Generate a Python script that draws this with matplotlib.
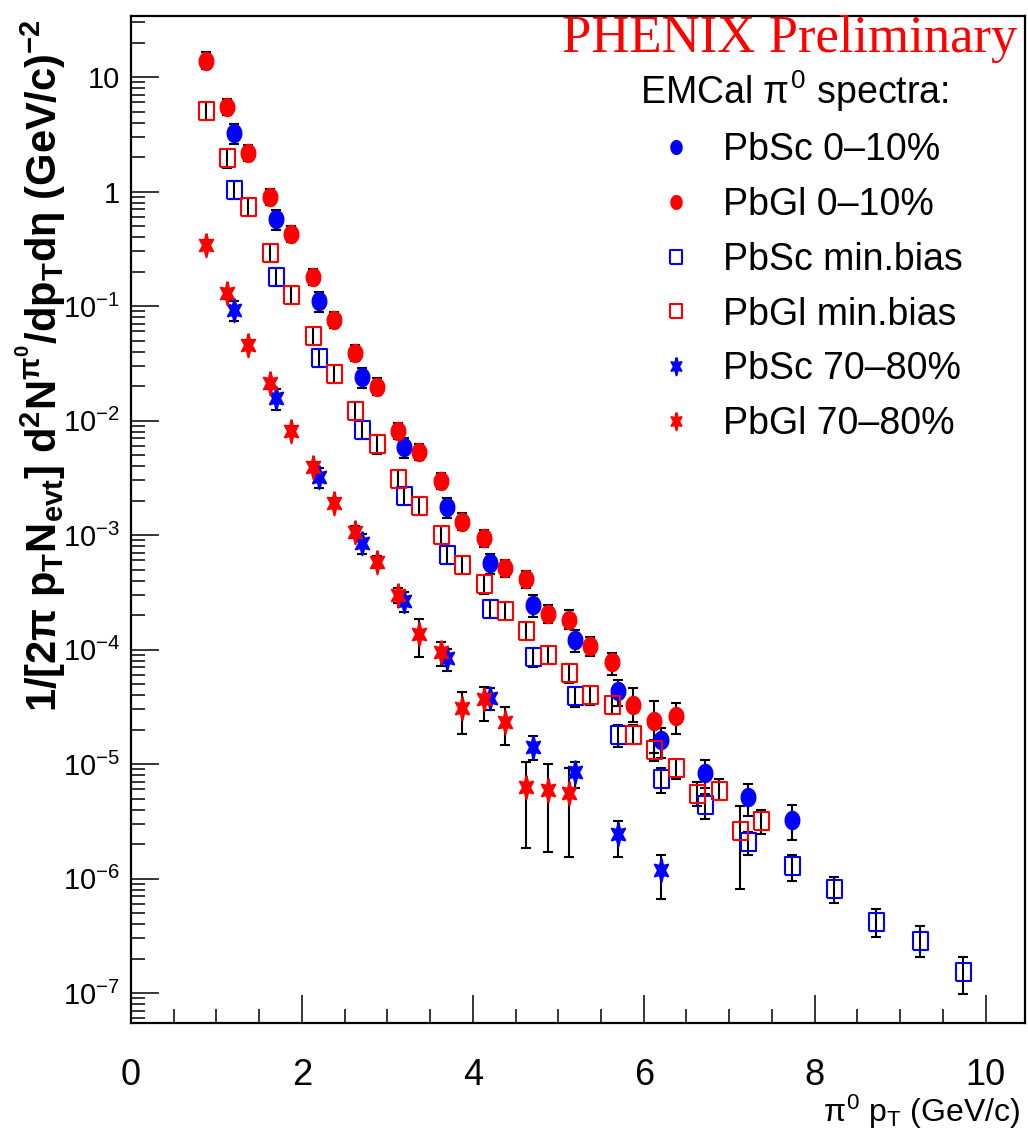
import numpy as np
import matplotlib
matplotlib.use("Agg")
import matplotlib.pyplot as plt
from matplotlib.ticker import MultipleLocator, LogLocator, NullFormatter, FuncFormatter

plt.rcParams['font.family'] = ['Liberation Sans', 'DejaVu Sans']
plt.rcParams['mathtext.fontset'] = 'custom'
plt.rcParams['mathtext.rm'] = 'Liberation Sans'
plt.rcParams['mathtext.it'] = 'Liberation Sans'
plt.rcParams['mathtext.bf'] = 'Liberation Sans:bold'

# PbGl 0-10% (red filled circles)
pbgl_c_x = [0.875, 1.125, 1.375, 1.625, 1.875, 2.125, 2.375, 2.625, 2.875, 3.125, 3.375, 3.625,
            3.875, 4.125, 4.375, 4.625, 4.875, 5.125, 5.375, 5.625, 5.875, 6.125, 6.375]
pbgl_c_y = [13.9, 5.50, 2.18, 0.901, 0.426, 0.180, 0.0755, 0.0386, 0.0198, 8.09e-3, 5.34e-3, 2.96e-3,
            1.31e-3, 9.35e-4, 5.12e-4, 4.12e-4, 2.06e-4, 1.83e-4, 1.08e-4, 7.78e-5, 3.31e-5, 2.38e-5, 2.64e-5]
pbgl_c_up = [0.18, 0.18, 0.18, 0.18, 0.18, 0.18, 0.18, 0.18, 0.18, 0.18, 0.18, 0.18,
             0.18, 0.18, 0.18, 0.18, 0.2, 0.2, 0.2, 0.21, 0.39, 0.49, 0.30]
pbgl_c_dn = [0.15, 0.15, 0.15, 0.15, 0.15, 0.15, 0.15, 0.15, 0.15, 0.15, 0.15, 0.15,
             0.15, 0.16, 0.16, 0.16, 0.18, 0.18, 0.18, 0.23, 0.30, 0.47, 0.31]

# PbSc 0-10% (blue filled circles)
pbsc_c_x = [1.2, 1.7, 2.2, 2.7, 3.2, 3.7, 4.2, 4.7, 5.2, 5.7, 6.2, 6.72, 7.22, 7.73]
pbsc_c_y = [3.26, 0.575, 0.111, 0.0240, 5.91e-3, 1.77e-3, 5.71e-4, 2.47e-4, 1.22e-4, 4.31e-5,
            1.61e-5, 8.28e-6, 5.15e-6, 3.27e-6]
pbsc_c_up = [0.2, 0.2, 0.2, 0.2, 0.2, 0.2, 0.2, 0.22, 0.22, 0.26, 0.28, 0.30, 0.30, 0.35]
pbsc_c_dn = [0.2, 0.2, 0.2, 0.2, 0.2, 0.2, 0.2, 0.22, 0.22, 0.25, 0.30, 0.26, 0.31, 0.33]

# PbSc min. bias (blue open squares)
pbsc_mb_x = [1.2, 1.7, 2.2, 2.7, 3.2, 3.7, 4.2, 4.7, 5.2, 5.7, 6.2, 6.72, 7.22, 7.73,
             8.23, 8.72, 9.23, 9.73]
pbsc_mb_y = [1.03, 0.180, 0.0353, 8.26e-3, 2.19e-3, 6.69e-4, 2.26e-4, 8.59e-5, 3.90e-5, 1.80e-5,
             7.39e-6, 4.38e-6, 2.09e-6, 1.29e-6, 8.17e-7, 4.15e-7, 2.86e-7, 1.52e-7]
pbsc_mb_up = [0.2, 0.2, 0.2, 0.2, 0.2, 0.2, 0.2, 0.2, 0.2, 0.22, 0.25, 0.25, 0.23, 0.25,
              0.26, 0.31, 0.36, 0.36]
pbsc_mb_dn = [0.17, 0.17, 0.17, 0.17, 0.17, 0.17, 0.17, 0.18, 0.2, 0.22, 0.25, 0.25, 0.23, 0.26,
              0.25, 0.25, 0.28, 0.36]

# PbGl min. bias (red open squares)
pbgl_mb_x = [0.875, 1.125, 1.375, 1.625, 1.875, 2.125, 2.375, 2.625, 2.875, 3.125, 3.375, 3.625,
             3.875, 4.125, 4.375, 4.625, 4.875, 5.125, 5.375, 5.625, 5.875, 6.125, 6.375, 6.625,
             6.875, 7.125, 7.375]
pbgl_mb_y = [5.08, 1.95, 0.736, 0.292, 0.1247, 0.0551, 0.0255, 0.0121, 6.20e-3, 3.08e-3, 1.80e-3,
             1.00e-3, 5.52e-4, 3.71e-4, 2.18e-4, 1.46e-4, 8.95e-5, 6.19e-5, 3.98e-5, 3.30e-5,
             1.81e-5, 1.34e-5, 9.18e-6, 5.47e-6, 5.86e-6, 2.60e-6, 3.17e-6]
pbgl_mb_up = [0.2] * 16 + [0.2, 0.2, 0.2, 0.2, 0.2, 0.2, 0.2, 0.28, 0.26, 0.65, 0.24]
pbgl_mb_dn = [0.17] * 16 + [0.17, 0.17, 0.17, 0.17, 0.18, 0.2, 0.2, 0.21, 0.17, 0.69, 0.23]

# PbSc 70-80% (blue stars)
pbsc_p_x = [1.2, 1.7, 2.2, 2.7, 3.2, 3.7, 4.2, 4.7, 5.2, 5.7, 6.2]
pbsc_p_y = [0.0923, 0.0156, 3.23e-3, 8.47e-4, 2.66e-4, 8.43e-5, 3.79e-5, 1.40e-5, 8.48e-6,
            2.45e-6, 1.19e-6]
pbsc_p_up = [0.2, 0.2, 0.2, 0.2, 0.2, 0.19, 0.21, 0.26, 0.24, 0.29, 0.35]
pbsc_p_dn = [0.2, 0.21, 0.2, 0.2, 0.2, 0.23, 0.22, 0.23, 0.27, 0.37, 0.44]

# PbGl 70-80% (red stars)
pbgl_p_x = [0.875, 1.125, 1.375, 1.625, 1.875, 2.125, 2.375, 2.625, 2.875, 3.125, 3.375, 3.625,
            3.875, 4.125, 4.375, 4.625, 4.875, 5.125]
pbgl_p_y = [0.341, 0.129, 0.0456, 0.0211, 8.15e-3, 3.95e-3, 1.90e-3, 1.07e-3, 5.85e-4, 2.99e-4,
            1.38e-4, 9.47e-5, 3.11e-5, 3.71e-5, 2.32e-5, 6.34e-6, 5.93e-6, 5.55e-6]
pbgl_p_up = [0.1, 0.1, 0.1, 0.1, 0.1, 0.1, 0.1, 0.12, 0.12, 0.15, 0.33, 0.24, 0.38, 0.27, 0.36,
             0.66, 0.70, 0.68]
pbgl_p_dn = [0.1, 0.1, 0.1, 0.1, 0.1, 0.1, 0.1, 0.12, 0.12, 0.15, 0.37, 0.24, 0.41, 0.36, 0.37,
             0.71, 0.71, 0.72]

labels = ['PbSc 0–10%', 'PbGl 0–10%', 'PbSc min.bias', 'PbGl min.bias', 'PbSc 70–80%', 'PbGl 70–80%']

# marker shapes (ROOT-ish, slightly tall)
t = np.linspace(0, 2 * np.pi, 41)
oval = list(zip(0.8 * np.cos(t), np.sin(t)))
rect = [(-0.8, -1), (0.8, -1), (0.8, 1), (-0.8, 1), (-0.8, -1)]
ang = np.pi / 2 + np.arange(12) * np.pi / 6
rad = np.where(np.arange(12) % 2 == 0, 1.0, 0.45)
star = list(zip(0.65 * rad * np.cos(ang), rad * np.sin(ang)))
star.append(star[0])

BLUE = '#0000ff'
RED = '#ff0000'

fig = plt.figure(figsize=(10.28, 11.39), dpi=100)
ax = fig.add_axes([0.1274, 0.1018, 0.8696, 0.8841])

series = [
    (pbsc_c_x, pbsc_c_y, pbsc_c_up, pbsc_c_dn, oval, BLUE, True, 12.5),
    (pbgl_c_x, pbgl_c_y, pbgl_c_up, pbgl_c_dn, oval, RED, True, 12.5),
    (pbsc_mb_x, pbsc_mb_y, pbsc_mb_up, pbsc_mb_dn, rect, BLUE, False, 13.5),
    (pbgl_mb_x, pbgl_mb_y, pbgl_mb_up, pbgl_mb_dn, rect, RED, False, 13.5),
    (pbsc_p_x, pbsc_p_y, pbsc_p_up, pbsc_p_dn, star, BLUE, True, 17),
    (pbgl_p_x, pbgl_p_y, pbgl_p_up, pbgl_p_dn, star, RED, True, 17),
]

for (x, y, up, dn, mk, col, filled, ms), lab in zip(series, labels):
    x = np.array(x)
    y = np.array(y)
    yerr = [y * np.array(dn), y * np.array(up)]
    ax.errorbar(x, y, yerr=yerr, fmt='none', ecolor='black', elinewidth=1.5,
                capsize=3.5, capthick=1.5, zorder=2)
    ax.plot(x, y, ls='none', marker=mk, ms=ms, mec=col, mew=1.5,
            mfc=col if filled else 'none', label=lab, zorder=3)

ax.set_yscale('log')
ax.set_xlim(0, 10.46)
ax.set_ylim(10 ** -7.262, 10 ** 1.533)

ax.xaxis.set_major_locator(MultipleLocator(2))
ax.xaxis.set_minor_locator(MultipleLocator(0.5))
ax.yaxis.set_major_locator(LogLocator(base=10, numticks=20))
ax.yaxis.set_minor_locator(LogLocator(base=10, subs=np.arange(2, 10), numticks=20))
ax.yaxis.set_minor_formatter(NullFormatter())


def ylab(v, pos):
    e = int(round(np.log10(v)))
    if e == 1:
        return '10'
    if e == 0:
        return '1'
    return r'$10^{%d}$' % e


ax.yaxis.set_major_formatter(FuncFormatter(ylab))
ax.xaxis.set_major_formatter(FuncFormatter(lambda v, p: '%d' % v))

ax.tick_params(which='both', direction='in', top=False, right=False, width=1.1)
ax.tick_params(which='major', length=20)
ax.tick_params(which='minor', length=10)
ax.tick_params(axis='x', which='major', labelsize=26, pad=25)
ax.tick_params(axis='y', which='major', labelsize=21, pad=8)
for s in ax.spines.values():
    s.set_linewidth(1.6)

fig.text(57 / 1028, 1 - 366 / 1139,
         r'$\mathbf{1/[2\pi\ p_{T}N_{evt}]\ d^{2}N^{\pi^{0}}/dp_{T}d\eta\ (GeV/c)^{-2}}$',
         rotation=90, rotation_mode='anchor', ha='center', va='baseline', fontsize=30)
fig.text(1020 / 1028, 1 - 1112 / 1139, r'$\pi^{0}\ p_{T}\ (GeV/c)$',
         ha='right', va='center', fontsize=23)
fig.text(1017 / 1028, 1 - 52 / 1139, 'PHENIX Preliminary', color=RED,
         family=['Liberation Serif', 'DejaVu Serif'], fontsize=38,
         ha='right', va='baseline', zorder=10)

leg = ax.legend(loc='upper left', bbox_to_anchor=(0.5694, 0.9484), frameon=False,
                title=r'EMCal $\pi^{0}$ spectra:', title_fontsize=27, fontsize=27,
                alignment='left', markerscale=0.75, handlelength=1.92,
                handletextpad=0.29, labelspacing=0.5, borderpad=0, borderaxespad=0)

fig.savefig('out.png', dpi=100)
